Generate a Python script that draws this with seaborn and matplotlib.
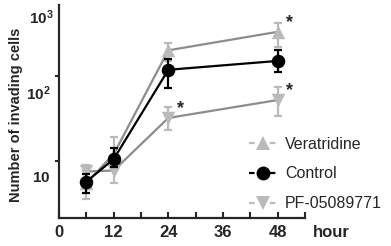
"""
Invading cells over time (log scale) for Veratridine / Control / PF-05089771.
Saves out.png
"""

import numpy as np
import pandas as pd
import matplotlib
matplotlib.use("Agg")
import matplotlib.pyplot as plt
import matplotlib.transforms as mtransforms
from matplotlib.lines import Line2D
import seaborn as sns

# data
hours = [6, 12, 24, 48]
groups = ["Veratridine", "Control", "PF-05089771"]

veratridine = [5.5, 12, 200, 330]
veratridine_lo = [3.6, 9, 150, 220]
veratridine_hi = [7.5, 19, 245, 420]

control = [5.7, 10.5, 118, 150]
control_lo = [4.2, 8.5, 72, 112]
control_hi = [7.0, 14, 158, 200]

pf = [7.5, 7.7, 32, 52]
pf_lo = [5.0, 5.5, 23, 34]
pf_hi = [9.0, 10.5, 43, 74]

significant = [("Veratridine", 48), ("PF-05089771", 24), ("PF-05089771", 48)]

x_ticks = [0, 12, 24, 36, 48]
x_minor = [6, 18, 30, 42, 54]
y_ticks = [10, 100]
y_tick_labels = [r"$\mathbf{10}$", r"$\mathbf{10^2}$"]

sns.set_style("ticks")
plt.rcParams.update({
    "font.family": ["Liberation Sans", "DejaVu Sans"],
    "mathtext.fontset": "custom",
    "mathtext.rm": "Liberation Sans",
    "mathtext.bf": "Liberation Sans:bold",
    "lines.scale_dashes": False,
})

LIGHT = "#bababa"
MID = "#8c8c8c"
marker_colors = {"Veratridine": LIGHT, "Control": "black", "PF-05089771": LIGHT}
line_colors = {"Veratridine": MID, "Control": "black", "PF-05089771": MID}
markers = {"Veratridine": "^", "Control": "o", "PF-05089771": "v"}


def main():
    series = {"Veratridine": (veratridine, veratridine_lo, veratridine_hi),
              "Control": (control, control_lo, control_hi),
              "PF-05089771": (pf, pf_lo, pf_hi)}

    df = pd.DataFrame({
        "hour": hours * 3,
        "cells": veratridine + control + pf,
        "group": np.repeat(groups, len(hours)),
    })

    fig = plt.figure(figsize=(3.91, 2.46), dpi=100)
    ax = fig.add_axes([0.151, 0.114, 0.629, 0.866])

    # draw order: gray series first, control on top
    order = ["Veratridine", "PF-05089771", "Control"]
    for z, g in enumerate(order):
        sub = df[df["group"] == g]
        vals, lo, hi = (np.array(a) for a in series[g])
        sns.lineplot(data=sub, x="hour", y="cells", color=line_colors[g],
                     lw=1.6, ax=ax, zorder=2 + z * 3, legend=False)
        ax.errorbar(hours, vals, yerr=[vals - lo, hi - vals], fmt="none",
                    ecolor=marker_colors[g], elinewidth=1.6, capsize=3,
                    capthick=1.6, zorder=3 + z * 3)
        sns.scatterplot(data=sub, x="hour", y="cells", marker=markers[g],
                        color=marker_colors[g], s=95, linewidth=0,
                        ax=ax, zorder=4 + z * 3, legend=False)

    # significance stars
    for g, h in significant:
        v = series[g][0][hours.index(h)]
        ax.annotate("*", xy=(h, v), xytext=(6, 7), textcoords="offset points",
                    ha="left", va="center", fontsize=13, fontweight="bold")

    ax.set_yscale("log")
    ax.set_xlim(0, 54)
    ax.set_ylim(2.13, 684)
    ax.set_xticks(x_ticks)
    ax.set_xticks(x_minor, minor=True)
    ax.set_xticklabels([str(t) for t in x_ticks], fontsize=12, fontweight="bold")
    ax.set_yticks(y_ticks)
    ax.yaxis.set_minor_locator(matplotlib.ticker.NullLocator())
    ax.set_yticklabels(y_tick_labels, fontsize=11)

    ax.tick_params(axis="x", which="both", direction="in", length=4, width=1.5, pad=5)
    ax.tick_params(axis="y", direction="out", length=3, width=1.5, pad=3)

    # y tick labels sit a little below their ticks in the original
    shift = mtransforms.ScaledTranslation(0, -0.16, fig.dpi_scale_trans)
    for lab in ax.get_yticklabels():
        lab.set_transform(lab.get_transform() + shift)
    ax.annotate(r"$\mathbf{10^3}$", xy=(0, 1), xycoords="axes fraction",
                xytext=(-4, -9), textcoords="offset points",
                ha="right", va="center", fontsize=11)

    sns.despine(ax=ax)
    for s in ["left", "bottom"]:
        ax.spines[s].set_linewidth(1.6)

    ax.set_xlabel("hour", fontsize=12, fontweight="bold", ha="left", va="center")
    ax.xaxis.set_label_coords(1.033, -0.066)
    ax.set_ylabel("Number of invading cells", fontsize=10.5, fontweight="bold",
                  va="center")
    ax.yaxis.set_label_coords(-0.175, 0.484)

    handles = [Line2D([], [], color=marker_colors[g], marker=markers[g],
                      markersize=10, markeredgewidth=0, lw=1.6,
                      linestyle=(0, (4, 11)))
               for g in groups]
    ax.legend(handles, groups, loc="upper left", bbox_to_anchor=(0.638, 0.445),
              bbox_transform=fig.transFigure, frameon=False, fontsize=11.5,
              handlelength=1.69, handletextpad=0.52, labelspacing=0.93,
              borderaxespad=0, borderpad=0)

    fig.savefig("out.png", dpi=100)
    plt.close(fig)


if __name__ == "__main__":
    main()
